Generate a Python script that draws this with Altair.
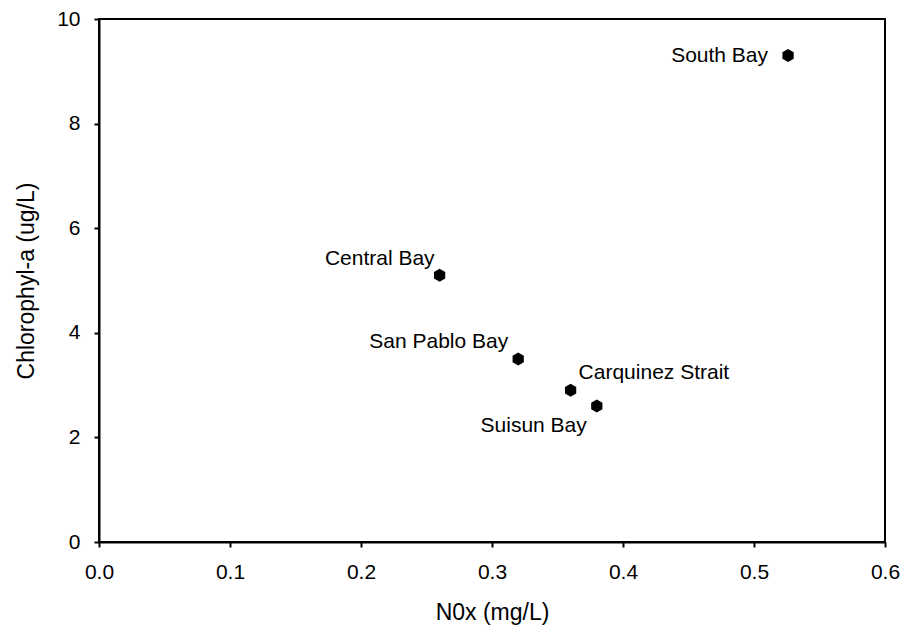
import altair as alt
import pandas as pd

sites = ["South Bay", "Central Bay", "San Pablo Bay", "Carquinez Strait", "Suisun Bay"]
nox = [0.526, 0.26, 0.32, 0.36, 0.38]
chl = [9.3, 5.1, 3.5, 2.9, 2.6]

x_ticks = [0.0, 0.1, 0.2, 0.3, 0.4, 0.5, 0.6]
y_ticks = [0, 2, 4, 6, 8, 10]

df = pd.DataFrame({"site": sites, "nox": nox, "chl": chl})

FONT = "Liberation Sans"
HEX = "M0,-1 L0.866,-0.5 L0.866,0.5 L0,1 L-0.866,0.5 L-0.866,-0.5 Z"

xenc = alt.X("nox:Q", scale=alt.Scale(domain=[0, 0.6], nice=False, zero=False),
             axis=alt.Axis(title="N0x (mg/L)", values=x_ticks, format=".1f",
                           grid=False, domainColor="black", domainWidth=2,
                           tickColor="black", tickWidth=2, tickSize=5,
                           labelFlush=False,
                           labelFont=FONT, labelFontSize=21, labelColor="black",
                           labelPadding=14, titleFont=FONT, titleFontSize=23,
                           titleFontWeight="normal", titleColor="black",
                           titlePadding=19))
yenc = alt.Y("chl:Q", scale=alt.Scale(domain=[0, 10], nice=False, zero=False),
             axis=alt.Axis(title="Chlorophyl-a (ug/L)", values=y_ticks, format="d",
                           grid=False, domainColor="black", domainWidth=2,
                           tickColor="black", tickWidth=2, tickSize=5,
                           labelFlush=False,
                           labelFont=FONT, labelFontSize=21, labelColor="black",
                           labelPadding=14, titleFont=FONT, titleFontSize=23,
                           titleFontWeight="normal", titleColor="black",
                           titlePadding=18))

base = alt.Chart(df)
points = base.mark_point(shape=HEX, filled=True, color="black", size=169, opacity=1).encode(
    x=xenc, y=yenc)

label_specs = [
    ("South Bay", "right", -20, 0),
    ("Central Bay", "right", -5, -16),
    ("San Pablo Bay", "right", -10, -17),
    ("Carquinez Strait", "left", 8, -17),
    ("Suisun Bay", "right", -10, 20),
]

layers = [points]
for name, align, dx, dy in label_specs:
    layers.append(
        base.transform_filter(alt.datum.site == name)
        .mark_text(align=align, baseline="middle", dx=dx, dy=dy, font=FONT,
                   fontSize=21, color="black")
        .encode(x="nox:Q", y="chl:Q", text="site:N")
    )

chart = alt.layer(*layers).properties(
    width=786, height=523,
    autosize=alt.AutoSizeParams(type="none"),
    padding={"left": 91, "top": 11, "right": 15, "bottom": 84},
).configure_view(stroke="black", strokeWidth=2)

chart.save("out.html", embed_options={"renderer": "svg", "actions": False})
